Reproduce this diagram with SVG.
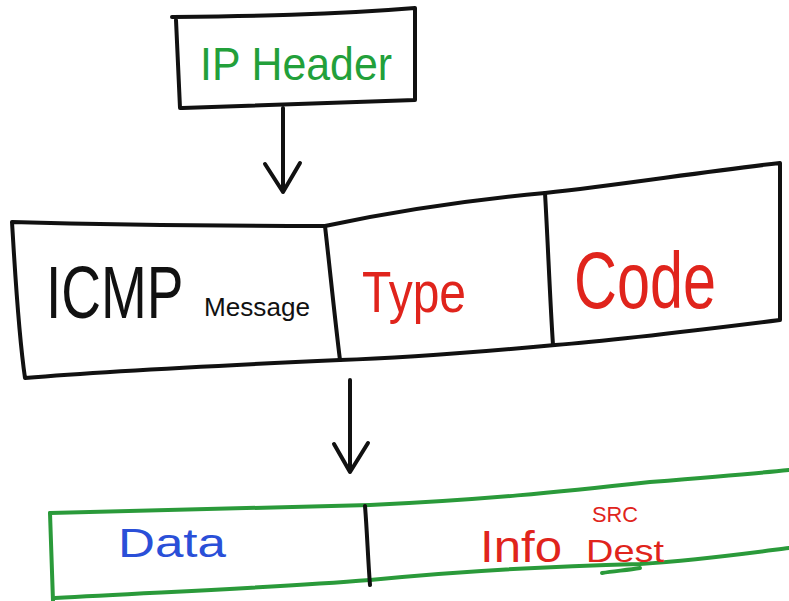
<svg xmlns="http://www.w3.org/2000/svg" width="789" height="601" viewBox="0 0 789 601">
<style>
.ink{fill:none;stroke:#111;stroke-width:4;stroke-linecap:round;stroke-linejoin:round}
.gink{fill:none;stroke:#2a9a3a;stroke-width:4;stroke-linecap:round;stroke-linejoin:round}
.t{font-family:"Liberation Sans",Arial,sans-serif}
.green{fill:#22a03a}
.red{fill:#e0241c}
.blue{fill:#2a4fd8}
.black{fill:#111}
</style>
<rect width="789" height="601" fill="#fff"/>
<g id="ip-header">
<path class="ink" d="M172,17 C250,16 330,15 415,8 L415,100 C340,102 260,106 180,108 L176,20"/>
<text class="t green" x="200" y="80" font-size="46" textLength="192" lengthAdjust="spacingAndGlyphs">IP Header</text>
</g>
<g id="icmp">
<path class="ink" d="M12,222 C120,225 220,226 325,226 C400,210 470,200 545,193 C620,185 700,172 780,163 L780,320 C700,330 620,340 555,345 C480,352 410,358 340,360 C230,365 120,370 25,378 C18,330 15,270 12,222 Z"/>
<path class="ink" d="M325,226 C330,270 335,320 340,360"/>
<path class="ink" d="M545,193 C548,245 550,300 553,345"/>
<text class="t black" transform="translate(46,318) scale(1,1.35)" x="0" y="0" font-size="55">ICMP</text>
<text class="t black" x="204" y="316" font-size="26" textLength="106" lengthAdjust="spacingAndGlyphs">Message</text>
<text class="t red" x="362" y="312" font-size="58" textLength="104" lengthAdjust="spacingAndGlyphs">Type</text>
<text class="t red" x="574" y="308" font-size="80" textLength="142" lengthAdjust="spacingAndGlyphs">Code</text>
</g>
<g id="payload">
<path class="gink" d="M50,513 C150,510 260,508 370,505 C480,500 560,492 650,482 C700,478 750,474 789,470"/>
<path class="gink" d="M50,513 L53,601"/>
<path class="gink" d="M55,598 C160,592 270,588 370,580 C470,570 560,566 640,564 C700,560 750,553 789,548"/>
<path class="gink" d="M602,573 C615,571 628,570 640,568"/>
<path class="ink" d="M365,506 C367,530 368,560 370,585"/>
<text class="t blue" x="118" y="557" font-size="40" textLength="108" lengthAdjust="spacingAndGlyphs">Data</text>
<text class="t red" x="480" y="562" font-size="44" textLength="82" lengthAdjust="spacingAndGlyphs">Info</text>
<text class="t red" x="592" y="522" font-size="22" textLength="46" lengthAdjust="spacingAndGlyphs">SRC</text>
<text class="t red" x="586" y="562" font-size="32" textLength="78" lengthAdjust="spacingAndGlyphs">Dest</text>
</g>
<g id="connectors">
<path class="ink" d="M283,108 L283,192 M265,164 L283,192 L300,163"/>
<path class="ink" d="M350,380 L350,470 M334,444 L350,472 L368,443"/>
</g>
</svg>
